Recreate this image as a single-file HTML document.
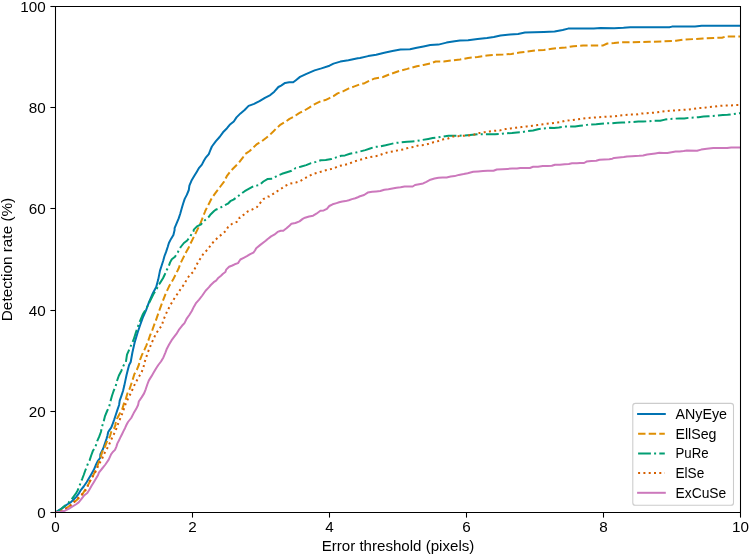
<!DOCTYPE html>
<html><head><meta charset="utf-8"><title>Detection rate</title><style>
html,body{margin:0;padding:0;background:#fff;width:749px;height:555px;overflow:hidden;}
svg{display:block;}
text{font-family:"Liberation Sans",sans-serif;font-size:14.10px;fill:#000;}
svg{will-change:transform;}
</style></head><body>
<svg width="749" height="555" viewBox="0 0 749 555">
<rect x="0" y="0" width="749" height="555" fill="#fff"/>
<defs><clipPath id="ax"><rect x="55.5" y="6.5" width="685.0" height="506.0"/></clipPath></defs>
<g clip-path="url(#ax)" fill="none" stroke-width="2.00" stroke-linejoin="round">
<path d="M55.5 512.5L57.0 511.4L59.9 509.6L63.5 507.4L67.1 504.5L70.7 502.4L73.6 499.5L76.5 496.6L78.7 493.7L80.8 490.1L83.7 486.5L86.6 482.2L88.8 478.6L90.9 475.0L93.7 470.1L95.7 465.3L97.7 461.2L100.1 458.0L100.4 454.2L101.5 452.0L103.1 448.8L104.2 445.5L105.5 441.8L106.4 439.1L107.4 435.8L108.2 432.0L109.6 429.9L111.2 427.7L112.3 425.0L114.2 419.6L115.8 414.7L117.4 409.9L119.1 405.0L119.7 400.7L121.4 395.8L123.0 391.0L124.2 386.1L125.4 380.4L126.6 374.7L127.8 369.9L129.1 365.0L130.7 362.0L132.4 352.5L134.6 342.8L137.8 332.0L140.0 325.5L142.7 317.9L146.0 310.3L149.2 301.6L153.0 293.0L156.2 287.0L158.2 279.6L159.2 274.6L160.0 270.6L161.6 265.7L163.2 260.8L164.5 256.0L166.1 251.9L167.7 247.0L168.9 243.0L171.0 238.9L173.4 234.9L174.6 230.0L174.6 228.1L176.6 223.3L178.7 218.4L180.3 213.5L181.9 207.8L183.1 203.8L184.7 198.9L186.8 194.9L188.8 190.0L189.4 185.7L191.4 180.8L194.2 176.0L196.7 171.9L199.1 167.8L201.9 164.6L204.0 160.5L206.0 157.3L208.8 154.1L210.4 150.0L211.9 146.5L215.9 141.1L219.6 137.0L223.0 132.3L227.0 128.2L229.7 124.8L233.8 121.5L236.5 117.4L240.5 113.4L244.6 110.0L248.6 105.9L254.1 103.9L259.5 101.2L264.9 97.8L270.3 95.1L274.3 91.7L278.4 87.0L281.1 85.6L285.1 82.9L289.2 82.3L293.2 82.3L295.9 80.2L300.0 76.9L306.5 73.8L314.6 70.4L321.4 68.4L329.5 65.7L333.5 63.6L340.3 61.6L348.4 60.3L357.8 58.2L360.0 58.0L368.1 56.1L376.2 54.7L384.3 52.7L392.4 51.1L400.5 49.6L410.0 49.3L416.8 47.7L423.5 46.4L430.3 45.0L438.4 44.6L446.5 42.6L454.6 41.2L460.0 40.6L468.1 40.3L477.6 39.1L487.0 38.0L493.8 36.9L500.5 35.5L510.0 34.6L518.1 33.9L524.9 32.6L534.3 32.3L543.8 31.9L554.6 31.5L560.0 30.4L562.7 30.0L568.1 28.6L580.3 28.6L593.8 28.4L600.5 28.0L614.1 28.2L623.5 27.8L630.3 27.3L643.8 27.3L657.1 27.3L669.3 27.3L672.0 26.6L695.0 26.6L701.7 25.8L741.0 25.8" stroke="#0173b2" stroke-linecap="square"/>
<path d="M55.5 512.5L59.2 511.4L62.8 510.3L66.4 508.2L69.3 506.0L72.9 503.1L76.5 500.2L79.4 497.3L82.3 494.5L84.4 490.9L87.3 486.5L89.5 482.2L91.6 478.6L93.1 475.7L94.9 471.8L96.9 467.7L98.5 462.8L100.6 457.2L102.0 452.6L103.6 448.8L105.0 446.6L106.6 442.3L109.1 438.0L110.1 435.8L111.2 432.0L113.9 428.8L115.5 425.0L115.4 423.7L117.0 418.8L119.1 414.7L122.3 409.1L123.8 403.9L125.8 399.1L127.4 393.4L129.5 389.3L131.1 384.5L132.7 379.6L134.3 374.3L136.8 369.9L138.8 365.0L140.3 359.1L141.9 355.0L144.3 350.1L146.4 345.3L148.4 340.4L150.0 335.5L152.4 329.9L154.1 325.0L155.7 321.1L159.0 311.4L162.2 302.7L165.5 294.1L169.1 286.3L173.1 279.6L175.8 274.2L178.5 268.8L180.5 263.4L183.2 257.9L185.9 252.5L188.6 247.8L191.4 241.7L194.1 236.3L196.8 230.9L199.5 225.5L202.2 218.8L204.9 212.0L205.1 211.3L209.2 203.2L211.9 197.8L215.9 192.4L220.0 187.0L224.1 181.6L226.8 176.2L230.8 170.8L234.9 166.7L238.9 162.7L243.0 157.3L244.9 154.2L249.7 151.0L253.0 147.7L257.0 144.1L261.9 141.2L266.0 138.0L270.0 134.7L273.3 131.5L276.5 128.2L280.6 124.6L285.4 121.8L289.5 118.9L293.5 116.9L298.4 113.6L300.0 112.7L303.8 110.9L309.2 107.6L313.2 104.9L317.3 102.8L321.4 100.8L325.4 100.1L329.5 98.1L333.5 96.1L337.6 93.4L343.0 91.4L348.4 88.6L353.8 86.6L359.2 84.6L364.6 83.2L370.0 80.5L374.9 78.4L383.0 77.0L389.7 74.3L399.2 71.0L407.3 68.9L416.8 66.2L423.5 64.9L430.3 63.5L435.7 61.5L443.8 61.5L451.9 60.4L460.0 59.5L468.1 58.0L477.6 56.9L487.0 55.5L495.1 54.9L503.2 54.5L511.4 53.9L519.5 52.6L527.6 51.5L535.7 50.5L543.8 49.9L551.9 48.8L557.3 48.1L565.4 47.6L573.5 46.2L583.0 45.5L593.8 45.4L603.2 45.4L607.3 43.5L614.1 43.1L620.8 42.4L630.3 42.2L641.1 42.0L649.2 41.8L662.5 41.4L676.0 40.8L684.1 39.5L693.6 39.1L703.0 38.4L713.9 38.0L722.0 37.7L726.0 36.4L741.0 36.4" stroke="#de8f05" stroke-dasharray="7.4 3.2"/>
<path d="M55.5 512.5L57.8 511.4L60.6 509.6L63.5 506.7L66.4 504.5L68.6 502.4L71.5 499.5L73.6 496.6L75.8 493.7L77.6 490.5L79.4 486.2L80.8 482.2L82.3 478.6L83.7 475.0L85.1 471.0L86.8 466.5L88.4 462.4L89.6 460.4L91.2 455.5L92.8 451.1L95.5 446.6L97.2 441.2L99.3 436.4L100.9 432.0L102.0 426.6L103.7 421.2L104.9 416.4L106.9 411.5L109.3 406.2L110.4 401.5L112.0 395.8L113.6 391.0L115.7 386.1L116.9 381.2L118.9 375.5L121.4 370.7L123.4 365.8L125.9 362.0L127.0 354.7L130.3 347.1L133.5 340.0L135.7 333.0L137.9 326.5L140.0 321.1L142.7 314.6L146.5 308.1L150.3 300.6L153.5 294.1L156.8 288.7L159.0 284.3L159.6 283.6L163.0 278.2L164.9 274.2L166.9 269.7L168.9 265.7L170.1 262.4L171.8 259.2L175.0 256.8L177.8 252.3L180.7 247.0L183.9 243.0L187.2 240.5L190.4 236.1L193.7 230.8L193.8 229.6L197.0 226.4L201.1 224.3L204.3 220.7L208.4 217.4L210.8 214.2L214.1 211.0L215.7 209.7L219.7 208.1L224.6 205.3L227.9 203.7L230.3 201.2L233.5 199.6L236.6 197.3L240.7 194.1L244.7 191.2L249.6 188.4L254.1 186.0L259.3 185.1L263.4 181.5L267.4 179.1L272.7 178.7L277.2 175.8L282.0 173.8L286.9 172.2L291.6 170.8L295.7 168.0L300.5 166.8L306.2 165.1L311.1 163.1L316.0 161.9L320.8 160.3L325.7 159.9L331.4 159.1L336.2 157.4L341.1 155.8L345.0 155.4L349.9 153.8L355.5 152.6L360.4 151.4L365.3 150.1L370.1 148.5L375.0 146.9L379.9 146.5L385.6 145.3L390.4 144.1L395.0 143.0L401.1 142.4L407.2 141.8L412.0 141.4L416.5 141.0L428.3 138.9L432.7 138.1L437.2 137.5L448.5 135.7L458.7 135.8L470.0 135.1L478.9 134.2L491.9 134.2L495.0 134.2L500.7 133.8L506.4 133.2L512.0 133.0L516.9 132.4L521.8 132.2L527.4 131.1L533.1 130.5L538.0 129.3L542.9 128.5L547.7 128.1L550.0 127.8L554.1 127.9L558.9 127.4L563.8 126.6L569.5 126.5L575.1 126.5L580.0 125.8L584.9 125.4L588.1 124.6L596.2 124.2L601.1 123.8L605.0 123.4L610.7 123.3L617.2 122.8L622.0 122.6L626.9 122.3L632.6 122.0L638.3 121.6L643.1 121.6L648.8 121.2L653.7 120.7L660.2 120.7L665.0 119.6L669.7 119.0L674.5 118.7L679.3 118.4L684.2 118.4L689.0 117.8L693.8 117.5L698.6 117.2L703.5 116.6L708.3 116.3L713.1 116.0L718.0 115.4L722.8 115.1L727.6 114.8L732.5 114.2L739.7 113.2L741.0 113.0" stroke="#029e73" stroke-dasharray="12.8 3.2 2 3.2"/>
<path d="M55.5 512.5L62.8 510.3L66.4 508.2L70.0 506.0L73.6 502.4L77.2 498.8L80.8 495.2L84.4 492.3L87.3 487.3L88.8 482.9L91.6 477.9L94.5 473.8L96.9 468.9L98.9 464.1L101.8 459.6L103.9 454.2L106.4 449.9L108.8 445.3L110.9 440.4L113.1 435.5L115.5 431.2L117.2 426.1L119.1 421.2L121.1 416.4L123.1 411.5L124.7 406.2L126.6 401.5L129.1 396.6L131.5 391.8L133.5 386.9L136.0 382.0L138.4 377.6L141.2 373.1L143.3 368.2L144.3 363.1L145.9 358.3L147.6 353.0L149.6 348.1L151.6 343.2L153.7 338.4L156.1 333.5L158.9 329.5L161.8 325.4L163.4 320.1L165.7 314.6L167.7 310.1L170.1 305.7L172.6 301.2L175.4 296.8L178.3 292.7L181.1 288.2L184.3 284.2L186.8 279.3L189.6 275.3L193.3 271.8L195.7 266.9L198.1 262.0L201.0 257.6L203.8 253.1L207.6 249.7L210.4 245.7L213.7 241.6L217.7 237.7L221.8 234.3L225.8 230.9L227.9 227.2L231.9 223.9L236.8 221.9L239.6 219.1L239.5 217.6L243.5 214.9L247.6 211.5L252.0 209.6L256.9 207.2L260.1 203.1L263.4 199.1L267.8 196.6L269.2 196.6L273.2 193.9L277.3 191.2L281.4 188.5L285.4 185.8L289.5 183.8L290.8 183.4L295.7 182.6L300.1 181.0L304.6 178.5L309.5 175.7L313.9 173.7L318.8 172.4L323.7 170.8L328.9 169.6L333.8 168.4L338.7 166.0L343.5 165.1L348.6 163.9L353.1 161.9L358.0 160.3L362.8 159.1L368.1 157.4L373.0 156.6L378.3 155.7L383.1 153.8L388.0 152.2L393.3 151.4L398.2 150.3L403.5 149.5L408.4 147.8L413.7 147.0L418.5 145.4L423.8 145.0L428.7 143.8L433.5 142.2L438.4 141.0L443.3 139.3L448.1 138.5L453.0 136.5L458.1 136.2L463.5 135.8L468.9 135.4L474.3 134.5L479.1 133.1L484.5 132.2L489.2 131.4L494.6 130.8L500.0 130.4L505.4 129.1L510.8 128.4L516.2 127.7L521.6 127.0L527.0 126.4L532.4 125.7L537.8 125.0L543.2 124.3L548.6 123.6L554.1 123.0L559.5 122.3L564.9 120.9L570.3 120.3L575.7 119.6L581.1 118.9L586.5 118.2L592.7 117.7L598.1 117.3L603.5 116.9L608.9 116.6L614.3 116.4L619.7 115.5L625.1 115.0L630.5 114.6L635.9 114.6L641.4 113.6L646.8 113.2L652.2 112.8L657.6 112.3L661.2 111.7L666.0 111.1L672.1 110.5L676.9 110.3L682.9 109.9L687.8 109.6L692.6 109.1L698.6 108.1L703.5 107.9L708.3 107.1L714.3 106.7L719.2 105.9L725.2 105.5L730.0 105.5L735.5 105.1L741.0 105.0" stroke="#d55e00" stroke-dasharray="2 3.3"/>
<path d="M55.5 512.5L60.6 511.8L65.0 510.7L68.6 508.9L72.2 506.7L75.8 504.5L78.7 502.4L81.5 498.8L84.4 495.2L87.3 493.0L89.5 489.4L91.6 485.8L93.8 482.2L96.0 478.6L98.1 475.0L98.9 472.6L102.2 468.5L105.4 464.5L108.7 459.6L111.2 454.2L112.8 452.0L115.0 449.9L116.4 446.6L117.4 443.4L118.8 440.7L120.4 437.4L122.0 434.2L123.6 430.9L125.0 428.2L126.4 425.0L128.0 422.0L131.2 418.0L133.7 413.1L136.1 409.1L138.1 405.0L138.8 401.5L141.6 397.4L144.1 393.4L145.7 389.3L147.3 384.5L148.9 380.4L151.4 376.4L153.8 372.3L156.2 368.2L158.3 365.0L161.0 361.5L163.4 357.4L165.4 352.6L166.6 349.3L169.1 344.5L171.5 340.4L173.9 337.2L176.4 333.9L178.8 329.9L182.0 325.8L184.5 323.1L186.9 318.3L189.3 315.0L191.8 311.0L193.8 306.9L196.2 302.8L199.1 299.6L202.3 295.5L205.6 290.7L208.8 287.4L210.8 285.0L213.7 282.2L216.1 280.6L218.5 277.7L221.0 275.7L223.0 273.7L225.4 272.0L226.2 269.6L229.1 266.8L232.3 265.5L234.7 264.3L238.0 263.1L240.4 259.5L243.7 257.8L246.9 256.2L250.2 254.2L253.4 252.6L255.0 250.5L256.2 248.2L260.3 244.9L265.7 240.8L267.4 239.2L271.1 236.4L274.3 234.7L277.6 231.9L280.8 230.7L283.3 230.7L286.5 228.3L289.7 225.4L291.4 223.8L295.4 223.0L299.5 221.4L302.7 218.9L305.0 217.7L309.1 216.5L313.1 215.7L316.4 213.7L320.4 210.8L323.7 210.4L326.9 208.8L329.3 206.0L332.6 204.3L336.6 203.1L339.1 202.3L342.3 201.5L345.6 201.1L348.8 200.3L352.0 199.1L355.3 198.2L358.5 197.0L360.0 196.2L364.1 195.0L367.7 192.6L372.2 191.8L376.2 191.4L380.3 191.0L384.3 189.7L388.4 189.3L392.4 188.5L396.5 187.7L400.6 187.3L404.6 186.5L408.7 186.5L412.7 186.5L415.0 185.0L419.1 184.2L423.1 183.4L426.4 181.8L430.4 179.7L434.5 178.5L438.5 177.7L442.6 177.5L446.6 177.5L450.7 176.5L454.7 176.1L458.8 174.9L463.7 174.1L467.7 173.2L473.2 171.8L478.1 171.4L483.0 171.0L487.8 170.8L493.5 170.8L496.8 169.5L502.4 169.2L507.3 168.9L512.2 168.5L517.0 168.5L520.3 167.9L529.9 168.0L533.1 166.8L538.0 166.8L542.8 166.1L547.7 166.0L551.8 165.8L555.0 164.7L559.9 164.7L564.7 164.3L568.8 163.9L572.0 163.2L576.9 163.2L580.0 163.0L584.1 163.0L586.5 161.6L591.4 161.1L596.2 160.8L599.5 159.7L604.3 159.5L609.2 159.2L612.4 158.7L614.1 157.9L618.9 157.5L623.8 157.1L627.0 156.5L631.9 156.2L639.1 155.8L643.1 155.4L647.2 154.6L651.2 154.0L655.3 153.4L659.3 152.8L663.4 152.9L667.4 152.9L671.5 152.2L675.6 151.6L679.6 151.4L683.7 151.0L686.9 150.4L697.1 150.7L701.2 149.6L706.8 148.8L713.3 148.1L719.8 148.1L727.1 148.1L731.2 147.4L741.0 147.4" stroke="#cc78bc" stroke-linecap="square"/>
</g>
<g stroke="#000" stroke-width="1.07" fill="none" stroke-linecap="square">
<path d="M55.5 6.5H740.5V512.5H55.5Z"/>
<path d="M55.5 512.5V517.60" stroke-linecap="butt"/>
<path d="M192.5 512.5V517.60" stroke-linecap="butt"/>
<path d="M329.5 512.5V517.60" stroke-linecap="butt"/>
<path d="M466.5 512.5V517.60" stroke-linecap="butt"/>
<path d="M603.5 512.5V517.60" stroke-linecap="butt"/>
<path d="M740.5 512.5V517.60" stroke-linecap="butt"/>
<path d="M50.40 512.5H55.5" stroke-linecap="butt"/>
<path d="M50.40 411.5H55.5" stroke-linecap="butt"/>
<path d="M50.40 310.5H55.5" stroke-linecap="butt"/>
<path d="M50.40 208.5H55.5" stroke-linecap="butt"/>
<path d="M50.40 107.5H55.5" stroke-linecap="butt"/>
<path d="M50.40 6.5H55.5" stroke-linecap="butt"/>
</g>
<text x="55.5" y="532" text-anchor="middle" textLength="8.48" lengthAdjust="spacingAndGlyphs">0</text>
<text x="192.5" y="532" text-anchor="middle" textLength="8.48" lengthAdjust="spacingAndGlyphs">2</text>
<text x="329.5" y="532" text-anchor="middle" textLength="8.48" lengthAdjust="spacingAndGlyphs">4</text>
<text x="466.5" y="532" text-anchor="middle" textLength="8.48" lengthAdjust="spacingAndGlyphs">6</text>
<text x="603.5" y="532" text-anchor="middle" textLength="8.48" lengthAdjust="spacingAndGlyphs">8</text>
<text x="740.5" y="532" text-anchor="middle" textLength="16.97" lengthAdjust="spacingAndGlyphs">10</text>
<text x="45.7" y="518.0" text-anchor="end" textLength="8.48" lengthAdjust="spacingAndGlyphs">0</text>
<text x="45.7" y="417.0" text-anchor="end" textLength="16.97" lengthAdjust="spacingAndGlyphs">20</text>
<text x="45.7" y="316.0" text-anchor="end" textLength="16.97" lengthAdjust="spacingAndGlyphs">40</text>
<text x="45.7" y="214.0" text-anchor="end" textLength="16.97" lengthAdjust="spacingAndGlyphs">60</text>
<text x="45.7" y="113.0" text-anchor="end" textLength="16.97" lengthAdjust="spacingAndGlyphs">80</text>
<text x="45.7" y="12.0" text-anchor="end" textLength="25.45" lengthAdjust="spacingAndGlyphs">100</text>
<text x="398" y="550.6" text-anchor="middle" textLength="152.67" lengthAdjust="spacingAndGlyphs">Error threshold (pixels)</text>
<text transform="translate(11.9 259.5) rotate(-90)" x="0" y="0" text-anchor="middle" textLength="123.4" lengthAdjust="spacingAndGlyphs">Detection rate (%)</text>
<rect x="632.8" y="403.4" width="100.7" height="101.9" rx="2.67" ry="2.67" fill="#fff" stroke="#ccc" stroke-width="1.07"/>
<path d="M638.1 414.0H664.8" stroke="#0173b2" stroke-width="2.00" stroke-linecap="square" fill="none"/>
<text x="675.5" y="418.9" textLength="51.51" lengthAdjust="spacingAndGlyphs">ANyEye</text>
<path d="M638.1 433.7H664.8" stroke="#de8f05" stroke-width="2.00" stroke-dasharray="7.4 3.2" fill="none"/>
<text x="675.5" y="438.6" textLength="40.97" lengthAdjust="spacingAndGlyphs">EllSeg</text>
<path d="M638.1 453.4H664.8" stroke="#029e73" stroke-width="2.00" stroke-dasharray="12.8 3.2 2 3.2" fill="none"/>
<text x="675.5" y="458.3" textLength="33.13" lengthAdjust="spacingAndGlyphs">PuRe</text>
<path d="M638.1 473.1H664.8" stroke="#d55e00" stroke-width="2.00" stroke-dasharray="2 3.3" fill="none"/>
<text x="675.5" y="478.0" textLength="28.80" lengthAdjust="spacingAndGlyphs">ElSe</text>
<path d="M638.1 492.8H664.8" stroke="#cc78bc" stroke-width="2.00" stroke-linecap="square" fill="none"/>
<text x="675.5" y="497.7" textLength="50.74" lengthAdjust="spacingAndGlyphs">ExCuSe</text>
</svg>
</body></html>
